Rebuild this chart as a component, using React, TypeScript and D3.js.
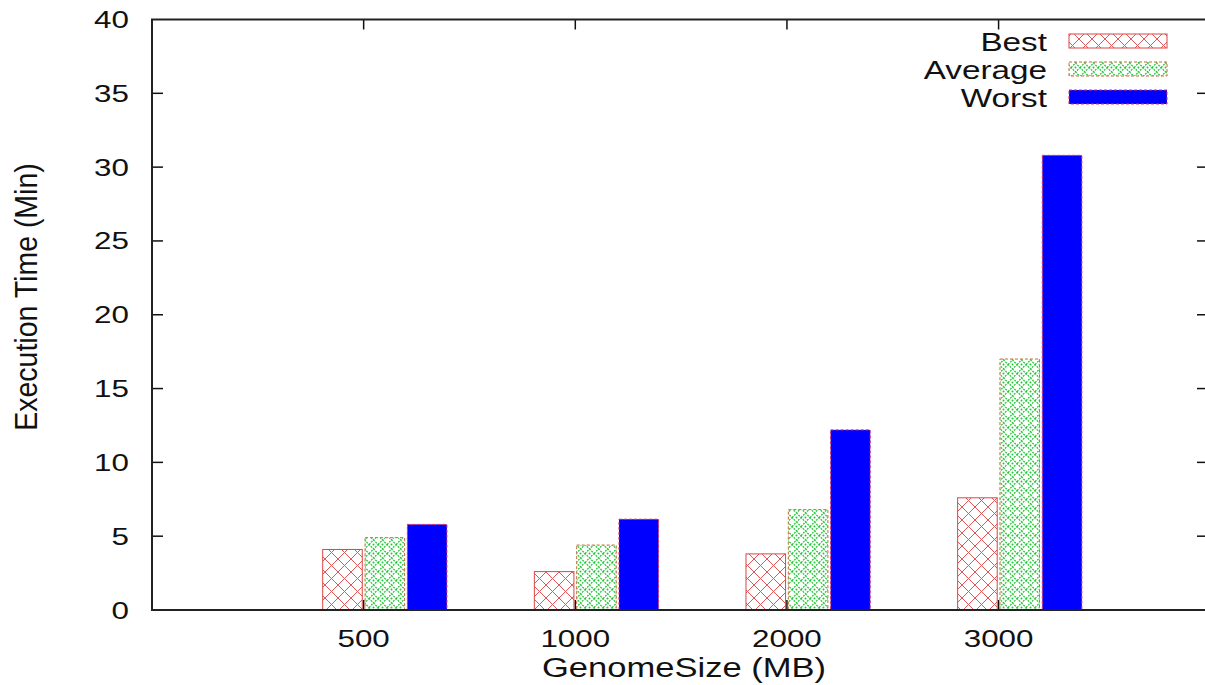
import React, { useEffect, useRef } from 'react';
import * as d3 from 'd3';

const categories = ['500', '1000', '2000', '3000'];
const bestValues = [4.1, 2.6, 3.8, 7.6];
const averageValues = [4.9, 4.4, 6.8, 17.0];
const worstValues = [5.8, 6.15, 12.2, 30.8];
const yTicks = [0, 5, 10, 15, 20, 25, 30, 35, 40];
const seriesNames = ['Best', 'Average', 'Worst'];

const FONT = '"Liberation Sans", Arial, Helvetica, sans-serif';

export default function App() {
  const svgRef = useRef<SVGSVGElement>(null);

  useEffect(() => {
    if (!svgRef.current) return;
    document.body.style.margin = '0';

    const width = 1205;
    const height = 685;
    const plot = { left: 152, right: 1206, top: 19.5, bottom: 610 };

    const svg = d3.select(svgRef.current);
    svg.selectAll('*').remove();
    svg.attr('width', width).attr('height', height);

    // 패턴 정의
    const defs = svg.append('defs');
    const pBest = defs.append('pattern')
      .attr('id', 'pat-best')
      .attr('patternUnits', 'userSpaceOnUse')
      .attr('width', 13).attr('height', 13);
    pBest.append('rect').attr('width', 13).attr('height', 13).attr('fill', '#fff');
    pBest.append('path')
      .attr('d', 'M0,0L13,13M13,0L0,13')
      .attr('stroke', '#e25555')
      .attr('stroke-width', 1)
      .attr('fill', 'none');

    const pAvg = defs.append('pattern')
      .attr('id', 'pat-avg')
      .attr('patternUnits', 'userSpaceOnUse')
      .attr('width', 9).attr('height', 9);
    pAvg.append('rect').attr('width', 9).attr('height', 9).attr('fill', '#fff');
    pAvg.append('path')
      .attr('d', 'M0,4.5L4.5,0L9,4.5L4.5,9Z')
      .attr('stroke', '#22c436')
      .attr('stroke-width', 1.2)
      .attr('stroke-dasharray', '2,1')
      .attr('fill', 'none');
    pAvg.append('circle').attr('cx', 4.5).attr('cy', 4.5).attr('r', 1).attr('fill', '#22c436');

    const x = d3.scaleLinear().domain([-1, 3.98]).range([plot.left, plot.right]);
    const y = d3.scaleLinear().domain([0, 40]).range([plot.bottom, plot.top]);

    const offsets = [-0.1, 0.1, 0.3];
    const barW = x(0.187) - x(0);
    const fills = ['url(#pat-best)', 'url(#pat-avg)', '#0000ff'];
    const strokes = ['#e04444', '#c0703a', '#e03060'];
    const dashes = [null, '3,2', '3,2'];
    const series = [bestValues, averageValues, worstValues];

    // 축 틱 (안쪽)
    const g = svg.append('g');
    categories.forEach((_, i) => {
      g.append('line')
        .attr('x1', x(i)).attr('x2', x(i))
        .attr('y1', plot.bottom).attr('y2', plot.bottom - 10)
        .attr('stroke', '#111').attr('stroke-width', 1.5);
      g.append('line')
        .attr('x1', x(i)).attr('x2', x(i))
        .attr('y1', plot.top).attr('y2', plot.top + 10)
        .attr('stroke', '#111').attr('stroke-width', 1.5);
    });
    yTicks.slice(1, -1).forEach(t => {
      g.append('line')
        .attr('x1', plot.left).attr('x2', plot.left + 11)
        .attr('y1', y(t)).attr('y2', y(t))
        .attr('stroke', '#111').attr('stroke-width', 1.5);
      g.append('line')
        .attr('x1', plot.right - 9).attr('x2', plot.right)
        .attr('y1', y(t)).attr('y2', y(t))
        .attr('stroke', '#111').attr('stroke-width', 1.5);
    });

    // 막대
    series.forEach((vals, s) => {
      svg.append('g').selectAll('rect')
        .data(vals)
        .enter()
        .append('rect')
        .attr('x', (_, i) => x(i + offsets[s]) - barW / 2)
        .attr('y', d => y(d))
        .attr('width', barW)
        .attr('height', d => y(0) - y(d))
        .attr('fill', fills[s])
        .attr('stroke', strokes[s])
        .attr('stroke-width', 1)
        .attr('stroke-dasharray', dashes[s]);
    });

    // 테두리
    svg.append('rect')
      .attr('x', plot.left).attr('y', plot.top)
      .attr('width', plot.right - plot.left)
      .attr('height', plot.bottom - plot.top)
      .attr('fill', 'none')
      .attr('stroke', '#222')
      .attr('stroke-width', 2);

    const sx = 1.28;

    // y축 라벨
    yTicks.forEach(t => {
      svg.append('text')
        .attr('transform', `translate(129,${y(t) + 8.5}) scale(${sx},1)`)
        .attr('text-anchor', 'end')
        .attr('font-family', FONT)
        .attr('font-size', 24.5)
        .attr('fill', '#111')
        .text(t);
    });

    // x축 라벨
    categories.forEach((c, i) => {
      svg.append('text')
        .attr('transform', `translate(${x(i)},647) scale(${sx},1)`)
        .attr('text-anchor', 'middle')
        .attr('font-family', FONT)
        .attr('font-size', 24.5)
        .attr('fill', '#111')
        .text(c);
    });

    svg.append('text')
      .attr('transform', `translate(684,677) scale(${sx},1)`)
      .attr('text-anchor', 'middle')
      .attr('font-family', FONT)
      .attr('font-size', 27)
      .attr('fill', '#111')
      .text('GenomeSize (MB)');

    svg.append('text')
      .attr('transform', 'translate(37,297) rotate(-90) scale(1,1.1)')
      .attr('text-anchor', 'middle')
      .attr('font-family', FONT)
      .attr('font-size', 28.5)
      .attr('fill', '#111')
      .text('Execution Time (Min)');

    // 범례
    const legendY = d3.scalePoint<string>().domain(seriesNames).range([41, 97]);
    seriesNames.forEach((name, s) => {
      const cy = legendY(name) as number;
      svg.append('text')
        .attr('transform', `translate(1047,${cy + 9.5}) scale(${sx},1)`)
        .attr('text-anchor', 'end')
        .attr('font-family', FONT)
        .attr('font-size', 26)
        .attr('fill', '#111')
        .text(name);
      svg.append('rect')
        .attr('x', 1069).attr('y', cy - 7)
        .attr('width', 98).attr('height', 14)
        .attr('fill', fills[s])
        .attr('stroke', strokes[s])
        .attr('stroke-width', 1)
        .attr('stroke-dasharray', dashes[s]);
    });
  }, []);

  return (
    <div style={{ position: 'absolute', left: 0, top: 0, background: '#fff' }}>
      <svg ref={svgRef} style={{ display: 'block' }}></svg>
    </div>
  );
}
